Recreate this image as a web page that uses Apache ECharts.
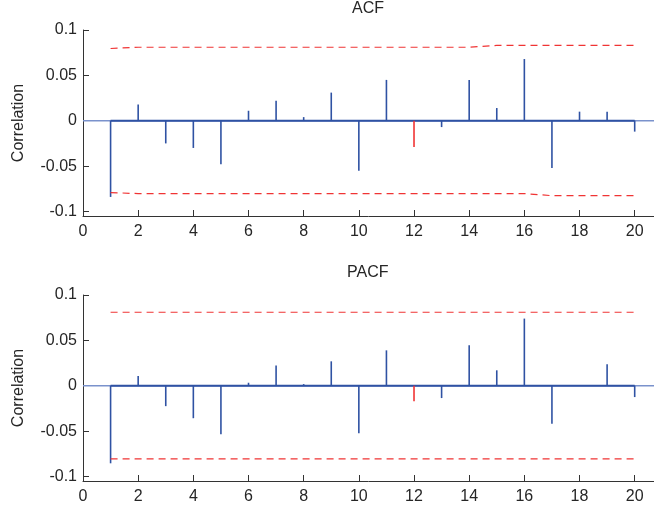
<!DOCTYPE html>
<html><head><meta charset="utf-8">
<script src="https://cdn.jsdelivr.net/npm/echarts@6/dist/echarts.min.js"></script>
<style>html,body{margin:0;padding:0;background:#fff}#c{width:654px;height:508px}</style>
</head><body><div id="c"></div>
<script>
const lags = [1,2,3,4,5,6,7,8,9,10,11,12,13,14,15,16,17,18,19,20];
const acfValues = [-0.084,0.018,-0.025,-0.030,-0.048,0.011,0.022,0.004,0.031,-0.055,0.045,-0.029,-0.007,0.045,0.014,0.068,-0.052,0.010,0.010,-0.012];
const acfUpper = [0.0796,0.081,0.081,0.081,0.081,0.081,0.081,0.081,0.081,0.081,0.081,0.081,0.081,0.081,0.083,0.083,0.083,0.083,0.083,0.083];
const acfLower = [-0.0792,-0.0803,-0.0803,-0.0803,-0.0803,-0.0803,-0.0803,-0.0803,-0.0803,-0.0803,-0.0803,-0.0803,-0.0803,-0.0803,-0.0803,-0.0803,-0.0826,-0.0826,-0.0826,-0.0826];
const pacfValues = [-0.0855,0.0106,-0.0225,-0.0358,-0.0535,0.0033,0.0224,0.0018,0.0269,-0.0523,0.039,-0.017,-0.0136,0.0446,0.017,0.074,-0.042,0,0.0236,-0.0125];
const pacfUpper = [0.081,0.081,0.081,0.081,0.081,0.081,0.081,0.081,0.081,0.081,0.081,0.081,0.081,0.081,0.081,0.081,0.081,0.081,0.081,0.081];
const pacfLower = [-0.0807,-0.0807,-0.0807,-0.0807,-0.0807,-0.0807,-0.0807,-0.0807,-0.0807,-0.0807,-0.0807,-0.0807,-0.0807,-0.0807,-0.0807,-0.0807,-0.0807,-0.0807,-0.0807,-0.0807];
const redLags = [12];
const xTicks = [0,2,4,6,8,10,12,14,16,18,20];
const yTicks = [-0.1,-0.05,0,0.05,0.1];
const yTickLabels = ['-0.1','-0.05','0','0.05','0.1'];
const titles = ['ACF','PACF'];
const yName = 'Correlation';
const xMin = 0, xMax = 20.7, yMin = -0.105, yMax = 0.1;

const FONT = 'Liberation Sans, Arial, sans-serif';
const FS = 16;
const TXT = '#262626';
const BLUE = '#2f52a3';
const LIGHTBLUE = '#7a92cc';
const RED = '#f03434';

function xAxis(g){
  return {type:'value', gridIndex:g, min:xMin, max:xMax,
    axisLine:{show:true, onZero:false, lineStyle:{color:'#333', width:1}},
    axisTick:{show:true, inside:true, length:6, customValues:xTicks, lineStyle:{color:'#333'}},
    axisLabel:{customValues:xTicks, margin:8, fontSize:FS, color:TXT, fontFamily:FONT},
    splitLine:{show:false}};
}
function yAxis(g){
  return {type:'value', gridIndex:g, min:yMin, max:yMax,
    name:yName, nameLocation:'middle', nameRotate:90, nameGap:56,
    nameTextStyle:{fontSize:FS, color:TXT, fontFamily:FONT},
    axisLine:{show:true, onZero:false, lineStyle:{color:'#333', width:1}},
    axisTick:{show:true, inside:true, length:6, customValues:yTicks, lineStyle:{color:'#333'}},
    axisLabel:{customValues:yTicks, margin:6, fontSize:FS, color:TXT, fontFamily:FONT,
      formatter:v=>{const i=yTicks.findIndex(t=>Math.abs(t-v)<1e-9);return i>=0?yTickLabels[i]:'';}},
    splitLine:{show:false}};
}
function seriesFor(g, vals, up, lo){
  return [
    {type:'line', xAxisIndex:g, yAxisIndex:g, data:[[xMin,0],[xMax,0]], symbol:'none', silent:true,
      lineStyle:{color:LIGHTBLUE, width:1.5}, z:1},
    {type:'line', xAxisIndex:g, yAxisIndex:g, data:[[lags[0],0],[lags[lags.length-1],0]], symbol:'none', silent:true,
      lineStyle:{color:BLUE, width:1.8}, z:2},
    {type:'bar', xAxisIndex:g, yAxisIndex:g, barWidth:1.6, silent:true, z:3,
      data:lags.map((l,i)=>({value:[l,vals[i]], itemStyle:{color: redLags.includes(l)?RED:BLUE}}))},
    {type:'line', xAxisIndex:g, yAxisIndex:g, data:lags.map((l,i)=>[l,up[i]]), symbol:'none', silent:true,
      lineStyle:{color:RED, width:1.2, type:[7,5]}, z:4},
    {type:'line', xAxisIndex:g, yAxisIndex:g, data:lags.map((l,i)=>[l,lo[i]]), symbol:'none', silent:true,
      lineStyle:{color:RED, width:1.2, type:[7,5]}, z:4}
  ];
}
const chart = echarts.init(document.getElementById('c'), null, {renderer:'canvas'});
chart.setOption({
  animation:false,
  backgroundColor:'#fff',
  title:[
    {text:titles[0], left:352, top:1, padding:0, textStyle:{fontSize:FS, fontWeight:'normal', color:TXT, fontFamily:FONT}},
    {text:titles[1], left:347, top:265, padding:0, textStyle:{fontSize:FS, fontWeight:'normal', color:TXT, fontFamily:FONT}}
  ],
  grid:[
    {left:83, right:0, top:30, height:186, containLabel:false},
    {left:83, right:0, top:295, height:186, containLabel:false}
  ],
  xAxis:[xAxis(0), xAxis(1)],
  yAxis:[yAxis(0), yAxis(1)],
  series:[...seriesFor(0, acfValues, acfUpper, acfLower), ...seriesFor(1, pacfValues, pacfUpper, pacfLower)]
});
</script>
</body></html>
